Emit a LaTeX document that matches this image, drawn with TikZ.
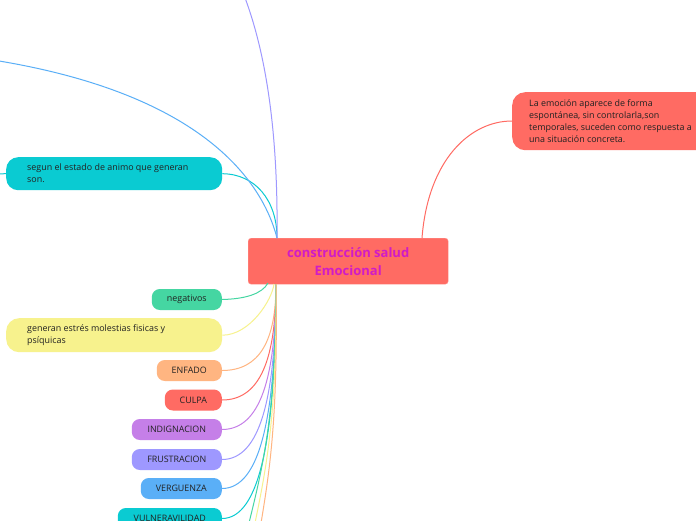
\documentclass[tikz,border=0pt]{standalone}
\usepackage{fontspec}
\setmainfont{Open Sans}
\definecolor{cred}{HTML}{FF6B63}
\definecolor{cmag}{HTML}{D01BC8}
\definecolor{cteal}{HTML}{0ACBD2}
\definecolor{cgreen}{HTML}{45D6A2}
\definecolor{cyel}{HTML}{F7F28D}
\definecolor{corange}{HTML}{FFB581}
\definecolor{cpurple}{HTML}{C57FE8}
\definecolor{clav}{HTML}{9E98FF}
\definecolor{cblue}{HTML}{5AAFF7}
\definecolor{ctext}{HTML}{222222}
\tikzset{
  pill/.style={rounded corners=8pt, inner sep=0pt, minimum height=21pt, anchor=east,
    font=\fontsize{8.9}{11}\selectfont, text=ctext},
  txt/.style={anchor=north west, font=\fontsize{8.9}{12}\selectfont, text=ctext, align=left, inner sep=0pt},
  conn/.style={line width=1pt},
}
\begin{document}
\begin{tikzpicture}[x=1pt,y=-1pt]
\clip (0,0) rectangle (696,520);
\fill[white] (0,0) rectangle (696,520);

% central node
\node[fill=cred, draw=cred!70!white, rounded corners=3pt, minimum width=200pt, minimum height=46pt,
  inner sep=0pt, anchor=north west, align=center, text=cmag,
  font=\fontsize{13}{18}\selectfont\bfseries] (c) at (248,238)
  {construcción salud\\Emocional};
\coordinate (ct) at (277,238);
\coordinate (cb) at (276,284);

% top-right node
\node[fill=cred, rounded corners=13pt, minimum width=200pt, minimum height=58pt, inner sep=0pt,
  anchor=north west] (d) at (512,92) {};
\node[txt] (dt) at (529,99) {La emoción aparece de forma\\espontánea, sin controlarla,son\\temporales, suceden como respuesta a\\una situación concreta.};
\coordinate (dw) at (512,121);
\draw[conn, cred] (422,238) .. controls (428,160) and (470,121) .. (dw);

% segun node
\node[fill=cteal, rounded corners=12pt, minimum width=216pt, minimum height=33pt, inner sep=0pt,
  anchor=north west] (s) at (6,157) {};
\node[txt] (st) at (27,163.5) {segun el estado de animo que generan\\son.};
\coordinate (sl) at (-10,174);
\draw[conn, cteal] (s.west) -- (sl);
\draw[conn, cteal] (s.east) .. controls (255,174) and (277,200) .. (ct);

% off-screen branches at the top
\coordinate (topb) at (-20,58);
\coordinate (topp) at (242,-10);
\draw[conn, cblue] (ct) .. controls (262,180) and (200,90) .. (topb);
\draw[conn, clav] (ct) .. controls (278,150) and (270,60) .. (topp);

% lower nodes
\node[pill, fill=cgreen, minimum width=70pt] (n1) at (222,299.5) {negativos};
\node[fill=cyel, rounded corners=13pt, minimum width=216pt, minimum height=34pt, inner sep=0pt,
  anchor=north west] (n2) at (6,318) {};
\node[txt] (n2t) at (27,324.5) {generan estrés molestias fisicas y\\psíquicas};
\node[pill, fill=corange, minimum width=65pt] (n3) at (222,370.5) {ENFADO};
\node[pill, fill=cred, minimum width=57pt] (n4) at (222,400) {CULPA};
\node[pill, fill=cpurple, minimum width=90pt] (n5) at (222,429.5) {INDIGNACION};
\node[pill, fill=clav, minimum width=90pt] (n6) at (222,459.5) {FRUSTRACION};
\node[pill, fill=cblue, minimum width=81pt] (n7) at (222,488.5) {VERGUENZA};
\node[pill, fill=cteal, minimum width=104pt] (n8) at (222,518.5) {VULNERAVILIDAD};

\draw[conn, cgreen] (n1.east) .. controls (245,299) and (262,294) .. (268,283);
\draw[conn, cyel] (n2.east) .. controls (250,335) and (272,300) .. (274,284);
\foreach \n/\y/\col in {n3/370.5/corange, n4/400/cred, n5/429.5/cpurple, n6/459.5/clav, n7/488.5/cblue, n8/518.5/cteal}{
  \draw[conn, \col] (\n.east) .. controls (260,\y) and (276,{\y-0.35*(\y-284)}) .. (cb);
}
% branches going off the bottom
\coordinate (b1) at (246,535);
\coordinate (b2) at (252.5,535);
\coordinate (b3) at (259,535);
\draw[conn, cgreen] (cb) .. controls (276,420) and (262,470) .. (b1);
\draw[conn, cyel] (cb) .. controls (277,420) and (266,470) .. (b2);
\draw[conn, corange] (cb) .. controls (278,420) and (270,470) .. (b3);
\end{tikzpicture}
\end{document}
